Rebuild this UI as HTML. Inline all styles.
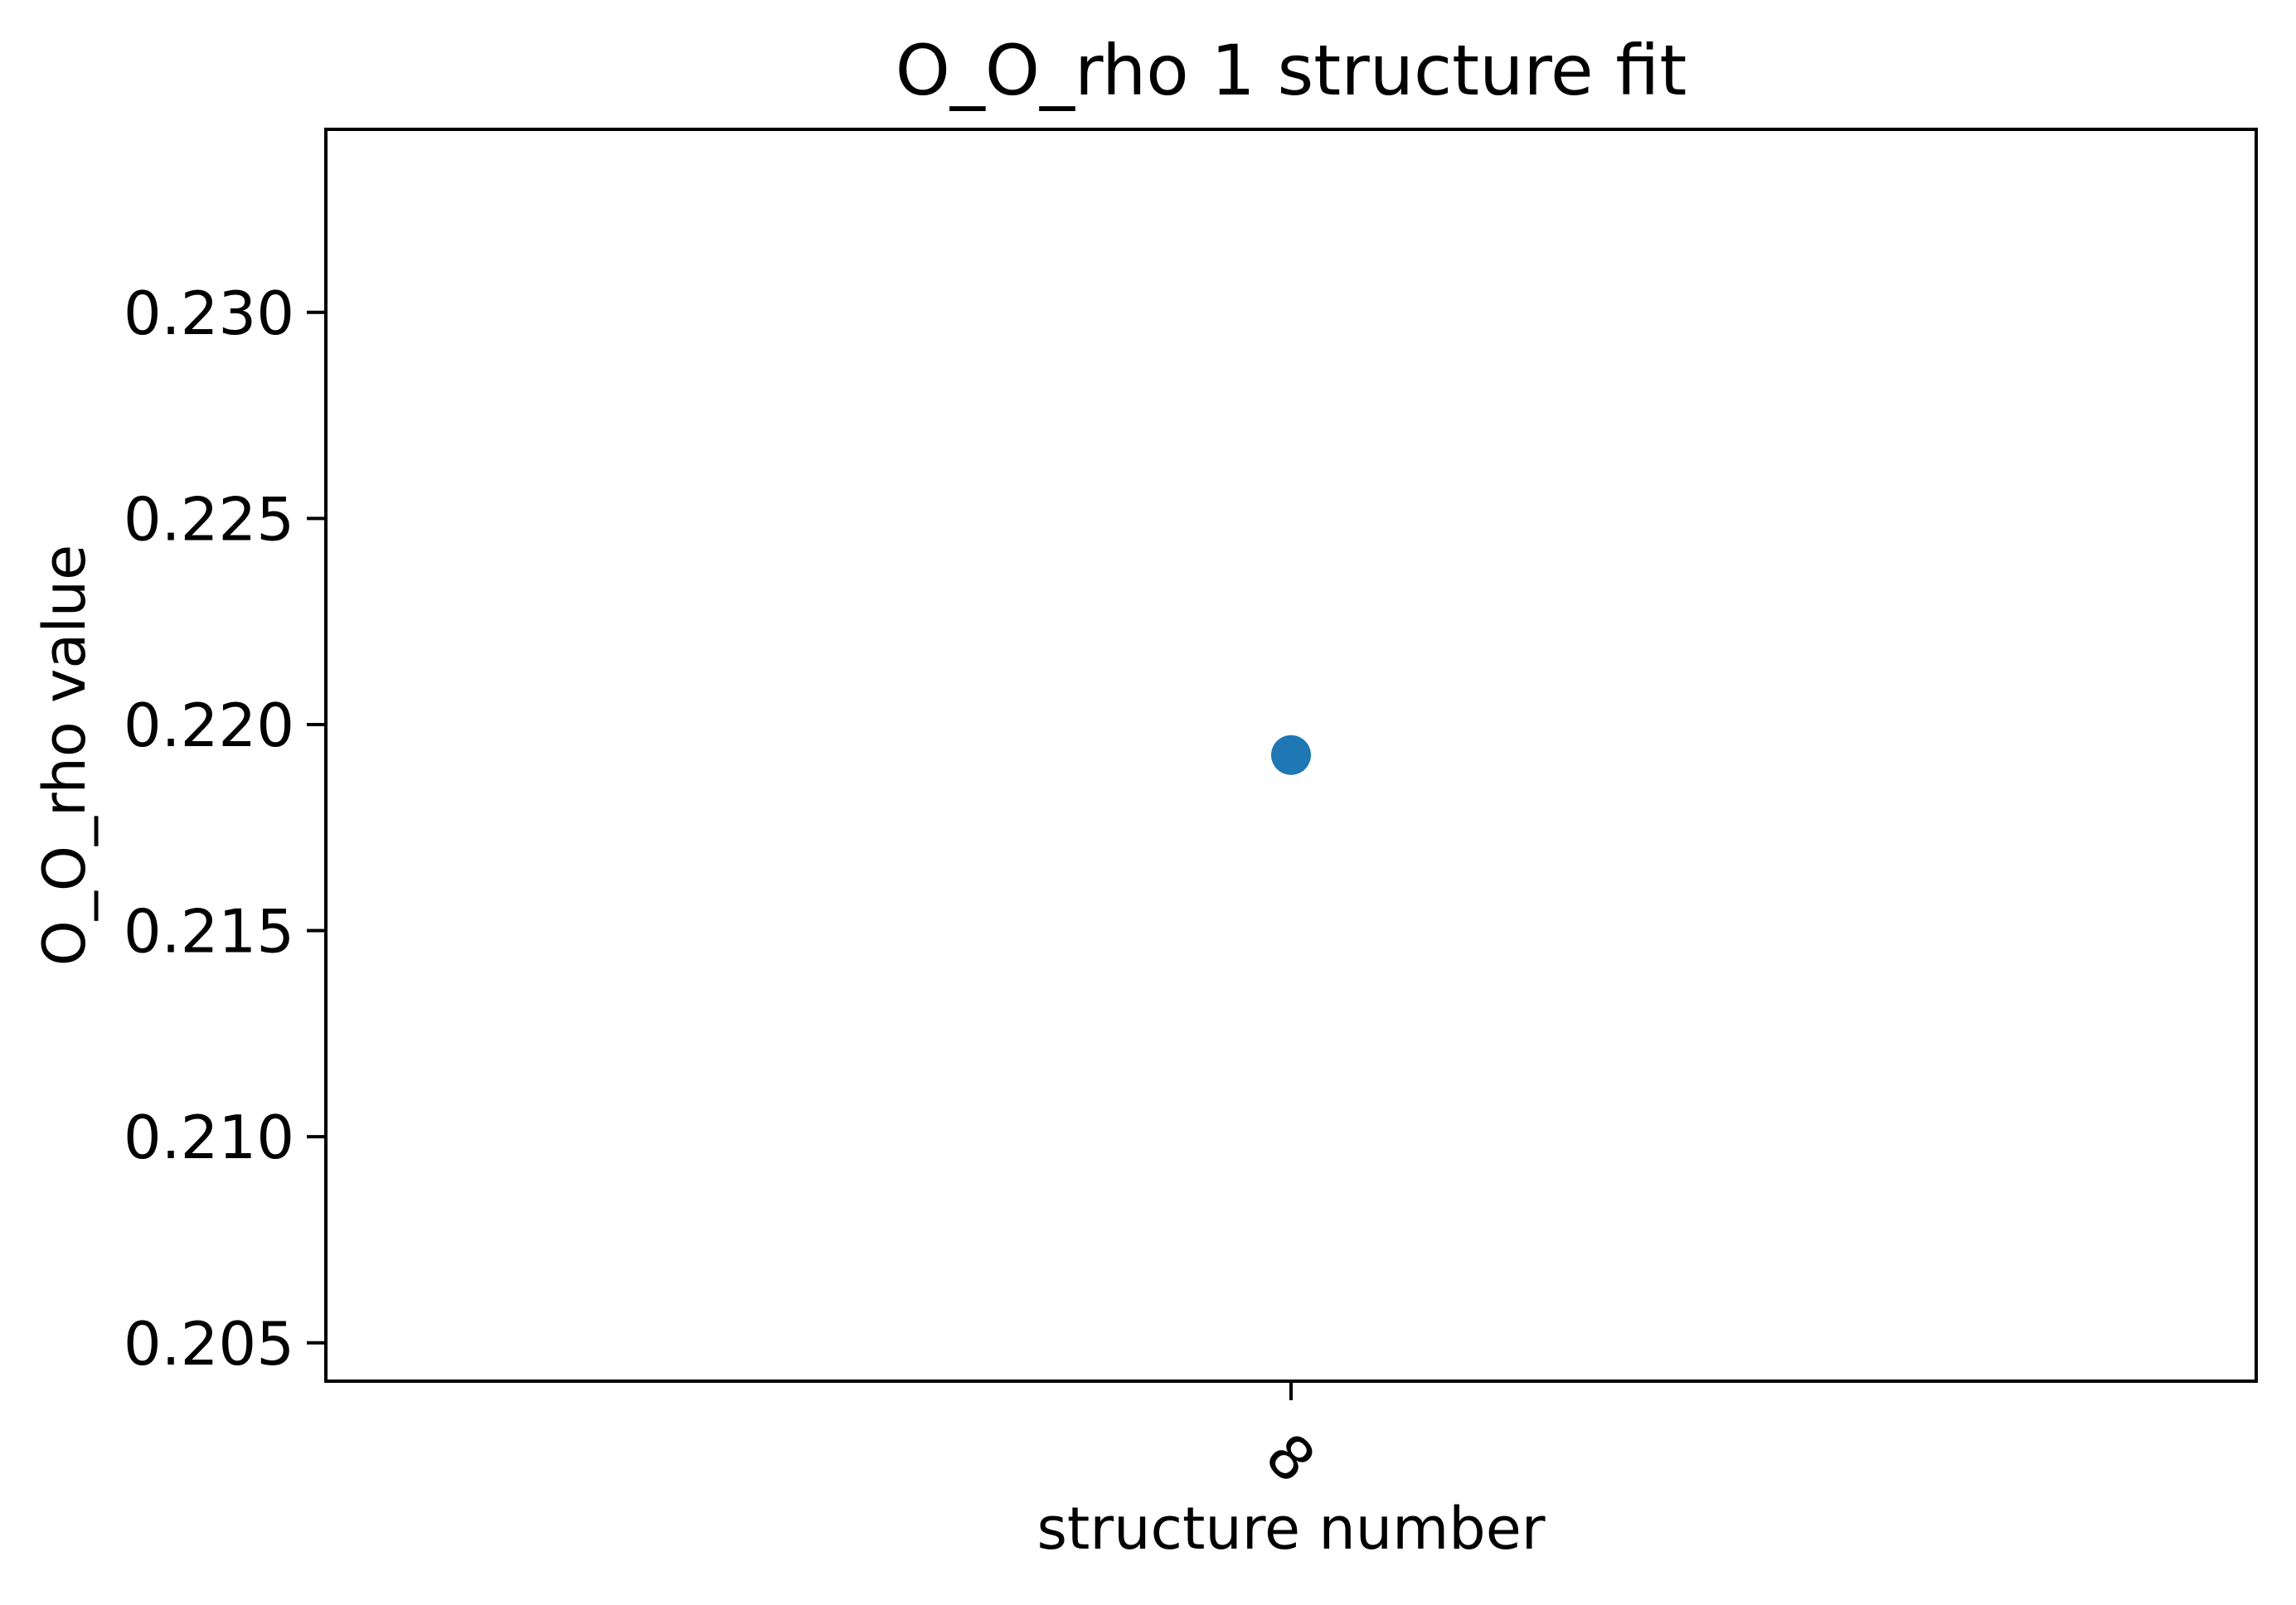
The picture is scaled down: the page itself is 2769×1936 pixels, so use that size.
<!DOCTYPE html>
<html><head><meta charset="utf-8"><style>
html,body{margin:0;padding:0;background:#fff;}
svg{display:block;font-family:"DejaVu Sans","Liberation Sans",sans-serif;}
</style></head><body>
<svg id="chart" width="2769" height="1936" viewBox="0 0 2769 1936" xmlns="http://www.w3.org/2000/svg">
<rect width="2769" height="1936" fill="#fff"/>
<text x="1557" y="114" font-size="84" text-anchor="middle">O_O_rho 1 structure fit</text>
<g id="yticks"></g>
<g id="xticks"></g>
<g id="points"></g>
<rect x="393" y="156" width="2328" height="1510" fill="none" stroke="#000" stroke-width="4"/>
<text x="1557" y="1868" font-size="70" text-anchor="middle">structure number</text>
<text transform="translate(102,911) rotate(-90)" font-size="70" text-anchor="middle">O_O_rho value</text>
</svg>
<script>
const categories = ["8"];
const values = [0.21926];
const yTickValues = [0.205, 0.210, 0.215, 0.220, 0.225, 0.230];
const yTickLabels = ["0.205", "0.210", "0.215", "0.220", "0.225", "0.230"];
const yMin = 0.20407, yMax = 0.23444;

const NS = "http://www.w3.org/2000/svg";
const L = 393, R = 2721, T = 156, B = 1666;
function yScale(v){ return B - (v - yMin) / (yMax - yMin) * (B - T); }
function xScale(i){ const n = categories.length; return L + (R - L) * (i + 0.5) / n; }

const yg = document.getElementById('yticks');
yTickValues.forEach((v, i) => {
  const y = yScale(v);
  const ln = document.createElementNS(NS, 'line');
  ln.setAttribute('x1', L - 23); ln.setAttribute('x2', L);
  ln.setAttribute('y1', y); ln.setAttribute('y2', y);
  ln.setAttribute('stroke', '#000'); ln.setAttribute('stroke-width', '4');
  
  
  yg.appendChild(ln);
  const t = document.createElementNS(NS, 'text');
  t.setAttribute('x', L - 38); t.setAttribute('y', y + 26);
  t.setAttribute('font-size', '72'); t.setAttribute('text-anchor', 'end');
  t.textContent = yTickLabels[i];
  
  
  yg.appendChild(t);
});

const xg = document.getElementById('xticks');
const pg = document.getElementById('points');
categories.forEach((c, i) => {
  const x = xScale(i);
  const ln = document.createElementNS(NS, 'line');
  ln.setAttribute('x1', x); ln.setAttribute('x2', x);
  ln.setAttribute('y1', B); ln.setAttribute('y2', B + 23);
  ln.setAttribute('stroke', '#000'); ln.setAttribute('stroke-width', '4');
  
  
  xg.appendChild(ln);
  const t = document.createElementNS(NS, 'text');
  t.setAttribute('transform', 'translate(' + x + ',' + (B + 92) + ') rotate(45)');
  t.setAttribute('font-size', '72'); t.setAttribute('text-anchor', 'middle');
  t.setAttribute('dy', '26');
  t.textContent = c;
  
  
  xg.appendChild(t);
  const dot = document.createElementNS(NS, 'circle');
  dot.setAttribute('cx', x); dot.setAttribute('cy', yScale(values[i]));
  dot.setAttribute('r', '24'); dot.setAttribute('fill', '#1f77b4');
  
  
  pg.appendChild(dot);
});
</script>
</body></html>
